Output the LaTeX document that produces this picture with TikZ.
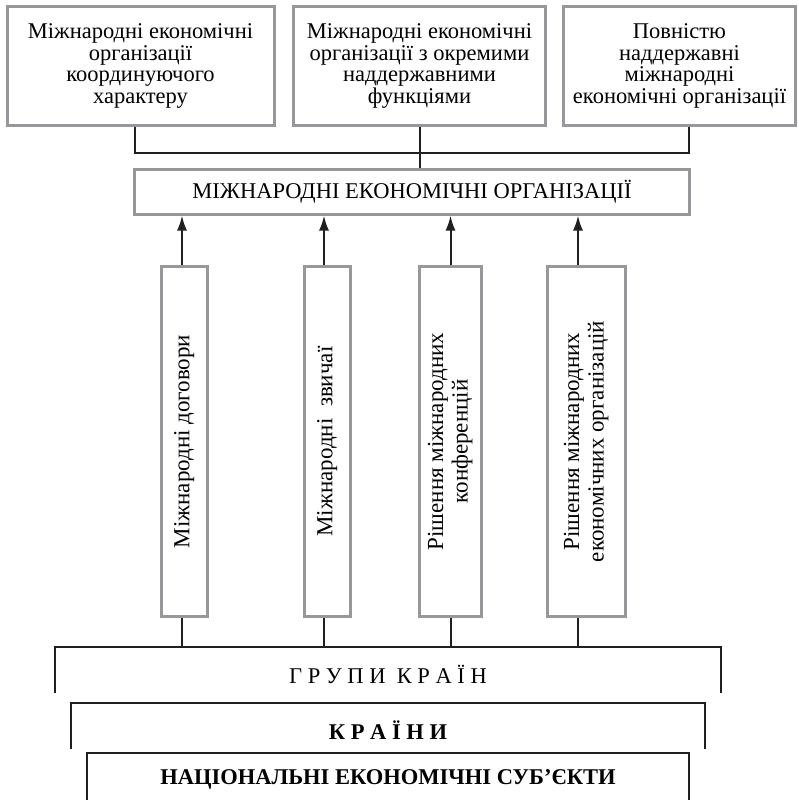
\documentclass[tikz,border=0pt]{standalone}
\usepackage{fontspec}
\setmainfont{Liberation Serif}
\usetikzlibrary{arrows.meta}
\definecolor{boxgray}{RGB}{152,152,156}
\definecolor{ink}{RGB}{35,31,32}
% rotated text for the narrow boxes
\newcommand{\vtext}[1]{\rotatebox{90}{\fontsize{23}{24.5}\selectfont
  \begin{tabular}{@{}c@{}}#1\end{tabular}}}
\tikzset{
  graybox/.style={draw=boxgray, line width=3pt, inner sep=0pt, align=center,
    font=\fontsize{22.5}{21.7}\selectfont},
  link/.style={draw=ink, line width=2pt},
  uparrow/.style={link, -{Latex[length=15pt,width=10pt]}},
  label text/.style={font=\fontsize{22.5}{24}\selectfont},
}
\begin{document}
\begin{tikzpicture}[x=1pt, y=-1pt]
  \useasboundingbox (0,0) rectangle (798,800);

  % Types of organisations
  \node[graybox, minimum width=267pt, minimum height=118pt] (org1) at (140.5,66)
    {Міжнародні економічні\\організації\\координуючого\\характеру};
  \node[graybox, minimum width=252pt, minimum height=118pt] (org2) at (419.5,66)
    {Міжнародні економічні\\організації з окремими\\наддержавними\\функціями};
  \node[graybox, minimum width=232pt, minimum height=118pt] (org3) at (679.5,66)
    {Повністю\\наддержавні\\міжнародні\\економічні організації};

  \node[graybox, minimum width=555pt, minimum height=44.5pt] (mid) at (412,191.75)
    {МІЖНАРОДНІ ЕКОНОМІЧНІ ОРГАНІЗАЦІЇ};

  % Bus above the middle box
  \coordinate (busL) at (135,153);
  \coordinate (busR) at (689,153);
  \draw[link] (busL |- org1.south) -- (busL) -- (busR) -- (busR |- org3.south);
  \draw[link] (org2.south) -- (org2.south |- mid.north);

  % Sources
  \node[graybox, minimum width=46pt, minimum height=350pt] (treaty) at (184.5,441.5)
    {\vtext{Міжнародні договори}};
  \node[graybox, minimum width=46pt, minimum height=350pt] (custom) at (327.5,441.5)
    {\vtext{Міжнародні~ звичаї}};
  \node[graybox, minimum width=62pt, minimum height=350pt] (conf) at (450.5,441.5)
    {\vtext{Рішення міжнародних\\конференцій}};
  \node[graybox, minimum width=78pt, minimum height=350pt] (decis) at (586.5,441.5)
    {\vtext{Рішення міжнародних\\економічних організацій}};

  \coordinate (bus) at (388,647);
  \foreach \n/\s in {treaty/-2.5, custom/-3.5, conf/0, decis/-8.5} {
    \draw[uparrow] ([xshift=\s pt]\n.north) -- ([xshift=\s pt]\n.north |- mid.south);
    \draw[link] ([xshift=\s pt]\n.south) -- ([xshift=\s pt]\n.south |- bus);
  }

  % Brackets at the bottom
  \coordinate (grpL) at (55,693);
  \coordinate (grpR) at (721,693);
  \draw[link] (grpL) -- ++(0,-46) -| (grpR);
  \node[label text] (groups) at (388,674) {Г Р У П И \ К Р А Ї Н};

  \coordinate (ctrL) at (71,749);
  \coordinate (ctrR) at (705,749);
  \draw[link] (ctrL) -- ++(0,-46) -| (ctrR);
  \node[label text] (countries) at (388,730) {\bfseries К Р А Ї Н И};

  \coordinate (natL) at (87,803);
  \coordinate (natR) at (689,803);
  \draw[link] (natL) -- ++(0,-50) -| (natR);
  \node[label text] (national) at (388,779.5) {\bfseries НАЦІОНАЛЬНІ ЕКОНОМІЧНІ СУБ’ЄКТИ};
\end{tikzpicture}
\end{document}
